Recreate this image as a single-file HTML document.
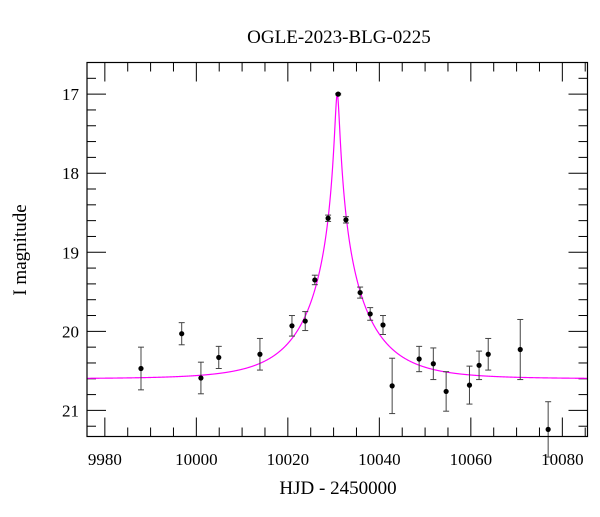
<!DOCTYPE html>
<html><head><meta charset="utf-8"><style>
body{margin:0;background:#fff;}
svg text{font-family:"Liberation Serif",serif;fill:#000;}
</style></head><body>
<svg id="chart" width="600" height="512" xmlns="http://www.w3.org/2000/svg">
<rect width="600" height="512" fill="#fff"/>
<text x="339" y="43" font-size="19" text-anchor="middle">OGLE-2023-BLG-0225</text>
<text x="338" y="494" font-size="19" text-anchor="middle">HJD - 2450000</text>
<text x="26" y="250" font-size="19" text-anchor="middle" transform="rotate(-90 26 250)">I magnitude</text>
<g id="axes"></g>
<g id="curve"></g>
<g id="points"></g>
<rect x="87" y="62.5" width="500.5" height="374" fill="none" stroke="#000" stroke-width="1.2"/>
</svg>
<script>
const times=[9987.9,9996.8,10001,10004.9,10013.9,10020.9,10023.8,10025.9,10028.8,10031,10032.7,10035.8,10038,10040.8,10042.8,10048.7,10051.8,10054.6,10059.7,10061.8,10063.8,10070.8,10076.9];
const mags=[20.47,20.03,20.59,20.33,20.29,19.93,19.87,19.35,18.57,17.0,18.59,19.51,19.78,19.92,20.69,20.35,20.41,20.76,20.68,20.43,20.29,20.23,21.24];
const errs=[0.27,0.14,0.2,0.14,0.2,0.13,0.12,0.06,0.04,0.01,0.04,0.07,0.08,0.12,0.35,0.16,0.2,0.25,0.24,0.18,0.2,0.38,0.35];
const xTicks=[9980,10000,10020,10040,10060,10080];
const yTicks=[17,18,19,20,21];
const model={t0:10030.8,u0:0.0364,tE:13.2,base:20.6};
const X0=9976.1,X1=10085.5,Y0=16.6,Y1=21.33;
const L=87,R=587.5,T=62.5,B=436.5;
const sx=t=>L+(t-X0)/(X1-X0)*(R-L);
const sy=m=>T+(m-Y0)/(Y1-Y0)*(B-T);
const NS="http://www.w3.org/2000/svg";
function mk(tag,attrs,parent){const e=document.createElementNS(NS,tag);for(const k in attrs)e.setAttribute(k,attrs[k]);parent.appendChild(e);return e;}
const ax=document.getElementById('axes');
for(let t=9980;t<=10085;t+=5){
  const major=xTicks.includes(t);const len=major?19:9;const x=sx(t);
  const l1=mk('line',{x1:x,x2:x,y1:B,y2:B-len,stroke:'#000','stroke-width':1},ax);
  
  
  const l2=mk('line',{x1:x,x2:x,y1:T,y2:T+len,stroke:'#000','stroke-width':1},ax);
  
  
}
xTicks.forEach(t=>{const tx=mk('text',{x:sx(t),y:465,'font-size':17,'text-anchor':'middle'},ax);tx.textContent=t;
  
  });
for(let i=0;i<=23;i++){
  const m=16.6+i*0.2;if(m>Y1)break;
  const major=Math.abs(m-Math.round(m))<1e-6;const len=major?19:9;const y=sy(m);
  const l1=mk('line',{x1:L,x2:L+len,y1:y,y2:y,stroke:'#000','stroke-width':1},ax);
  
  
  const l2=mk('line',{x1:R,x2:R-len,y1:y,y2:y,stroke:'#000','stroke-width':1},ax);
  
  
}
yTicks.forEach(m=>{const tx=mk('text',{x:79,y:sy(m)+6,'font-size':17,'text-anchor':'end'},ax);tx.textContent=m;
  
  });
let d='';
for(let t=X0;t<=X1;t+=0.05){
  const tau=(t-model.t0)/model.tE;const u=Math.sqrt(model.u0*model.u0+tau*tau);
  const A=(u*u+2)/(u*Math.sqrt(u*u+4));const m=model.base-2.5*Math.log10(A);
  d+=(d?'L':'M')+sx(t).toFixed(2)+','+sy(m).toFixed(2);
}
const cp=mk('path',{d:d,fill:'none',stroke:'#ff00ff','stroke-width':1.2},document.getElementById('curve'));


const pg=document.getElementById('points');
times.forEach((t,i)=>{
  const x=sx(t),y=sy(mags[i]),y1=sy(mags[i]-errs[i]),y2=sy(mags[i]+errs[i]);
  const g=mk('g',{},pg);
  
  
  mk('line',{x1:x,x2:x,y1:y1,y2:y2,stroke:'#444','stroke-width':1},g);
  mk('line',{x1:x-3,x2:x+3,y1:y1,y2:y1,stroke:'#444','stroke-width':1},g);
  mk('line',{x1:x-3,x2:x+3,y1:y2,y2:y2,stroke:'#444','stroke-width':1},g);
  mk('circle',{cx:x,cy:y,r:2.6,fill:'#000'},g);
});
</script>
</body></html>
